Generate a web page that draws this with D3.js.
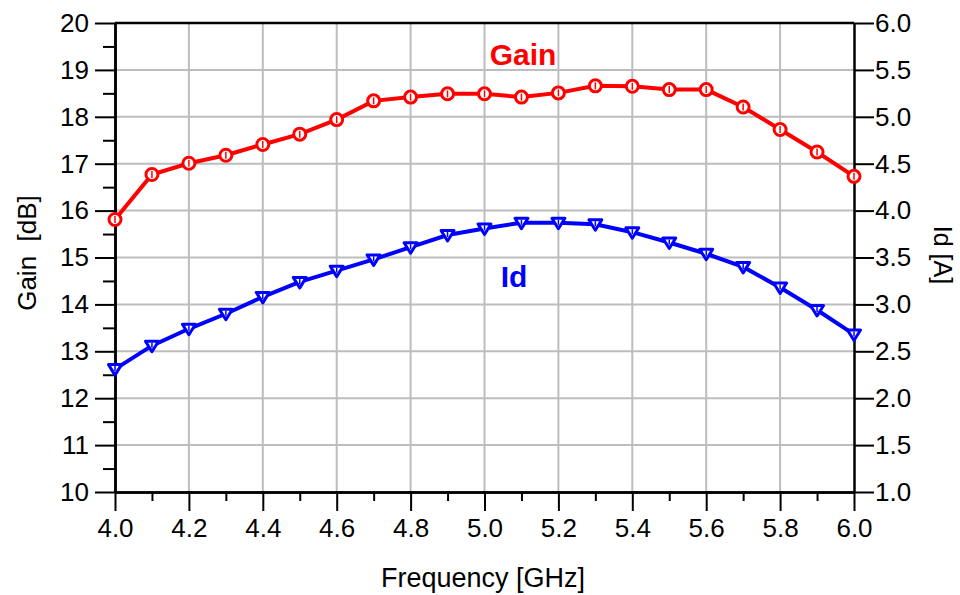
<!DOCTYPE html>
<html lang="en">
<head>
  <meta charset="UTF-8">
  <title>Gain and Id vs Frequency</title>
  <style>
    body { margin: 0; background: #fff; }
    text { font-family: "Liberation Sans", Arial, sans-serif; }
  </style>
</head>
<body>
  <svg id="chart" width="960" height="595"></svg>
  <script src="https://cdn.jsdelivr.net/npm/d3@7/dist/d3.min.js"></script>
  <script>
    // values
    var freq = [4.0, 4.1, 4.2, 4.3, 4.4, 4.5, 4.6, 4.7, 4.8, 4.9, 5.0,
                5.1, 5.2, 5.3, 5.4, 5.5, 5.6, 5.7, 5.8, 5.9, 6.0];
    var gain = [15.81, 16.77, 17.01, 17.18, 17.41, 17.63, 17.94, 18.34, 18.42, 18.49, 18.49,
                18.42, 18.51, 18.66, 18.65, 18.58, 18.58, 18.21, 17.73, 17.25, 16.73];
    var id = [2.31, 2.56, 2.74, 2.90, 3.08, 3.24, 3.36, 3.48, 3.61, 3.74, 3.81,
              3.87, 3.87, 3.855, 3.77, 3.66, 3.54, 3.40, 3.18, 2.94, 2.68];
    var xTicks = [4.0, 4.2, 4.4, 4.6, 4.8, 5.0, 5.2, 5.4, 5.6, 5.8, 6.0];
    var xMinor = [4.1, 4.3, 4.5, 4.7, 4.9, 5.1, 5.3, 5.5, 5.7, 5.9];
    var gainTicks = [10, 11, 12, 13, 14, 15, 16, 17, 18, 19, 20];
    var gainMinor = [10.5, 11.5, 12.5, 13.5, 14.5, 15.5, 16.5, 17.5, 18.5, 19.5];
    var idTicks = [1.0, 1.5, 2.0, 2.5, 3.0, 3.5, 4.0, 4.5, 5.0, 5.5, 6.0];

    var pl = 115, pr = 854, pt = 23, pb = 492;
    var svg = d3.select('#chart');

    var x = d3.scaleLinear().domain([4, 6]).range([pl, pr]);
    var yG = d3.scaleLinear().domain([10, 20]).range([pb, pt]);
    var yI = d3.scaleLinear().domain([1, 6]).range([pb, pt]);

    // grid
    var grid = svg.append('g').attr('stroke', '#bdbdbd').attr('stroke-width', 2);
    grid.selectAll('.gx').data(xTicks.slice(1, -1)).enter().append('line')
      .attr('x1', d => x(d)).attr('x2', d => x(d)).attr('y1', pt).attr('y2', pb);
    grid.selectAll('.gy').data(gainTicks.slice(1, -1)).enter().append('line')
      .attr('x1', pl).attr('x2', pr).attr('y1', d => yG(d)).attr('y2', d => yG(d));

    function styleAxis(g) {
      g.select('.domain').attr('stroke', '#000').attr('stroke-width', 2.5);
      g.selectAll('.tick line').attr('stroke', '#000').attr('stroke-width', 2);
      g.selectAll('text').attr('font-size', 26).attr('fill', '#000')
        .attr('font-family', '"Liberation Sans", Arial, sans-serif');
    }

    // bottom axis
    svg.append('g').attr('transform', 'translate(0,' + pb + ')')
      .call(d3.axisBottom(x).tickValues(xMinor).tickSize(9).tickFormat('').tickSizeOuter(0))
      .call(styleAxis);
    svg.append('g').attr('transform', 'translate(0,' + pb + ')')
      .call(d3.axisBottom(x).tickValues(xTicks).tickSize(19).tickPadding(8)
        .tickFormat(d3.format('.1f')).tickSizeOuter(0))
      .call(styleAxis);

    // left axis
    svg.append('g').attr('transform', 'translate(' + pl + ',0)')
      .call(d3.axisLeft(yG).tickValues(gainMinor).tickSize(12).tickFormat('').tickSizeOuter(0))
      .call(styleAxis);
    svg.append('g').attr('transform', 'translate(' + pl + ',0)')
      .call(d3.axisLeft(yG).tickValues(gainTicks).tickSize(20).tickPadding(6)
        .tickFormat(d3.format('d')).tickSizeOuter(0))
      .call(styleAxis);

    // right axis
    svg.append('g').attr('transform', 'translate(' + pr + ',0)')
      .call(d3.axisRight(yI).tickValues(idTicks).tickSize(20).tickPadding(1)
        .tickFormat(d3.format('.1f')).tickSizeOuter(0))
      .call(styleAxis);

    // top border
    svg.append('line').attr('x1', pl).attr('x2', pr).attr('y1', pt).attr('y2', pt)
      .attr('stroke', '#000').attr('stroke-width', 2.5);

    // gain series
    var gainLine = d3.line().x((d, i) => x(freq[i])).y(d => yG(d));
    svg.append('path').datum(gain).attr('d', gainLine)
      .attr('fill', 'none').attr('stroke', '#ff0000').attr('stroke-width', 4);
    var gm = svg.append('g').selectAll('g').data(gain).enter().append('g')
      .attr('transform', (d, i) => 'translate(' + x(freq[i]) + ',' + yG(d) + ')');
    gm.append('circle').attr('r', 6).attr('fill', '#fff')
      .attr('stroke', '#ff0000').attr('stroke-width', 3);
    gm.append('line').attr('y1', -3.5).attr('y2', 3.5)
      .attr('stroke', '#ff0000').attr('stroke-width', 1.5);

    // id series
    var idLine = d3.line().x((d, i) => x(freq[i])).y(d => yI(d));
    svg.append('path').datum(id).attr('d', idLine)
      .attr('fill', 'none').attr('stroke', '#0000ff').attr('stroke-width', 4);
    var im = svg.append('g').selectAll('g').data(id).enter().append('g')
      .attr('transform', (d, i) => 'translate(' + x(freq[i]) + ',' + yI(d) + ')');
    im.append('path').attr('d', 'M-6.5,-4.5L6.5,-4.5L0,6Z').attr('fill', '#fff')
      .attr('stroke', '#0000ff').attr('stroke-width', 3).attr('stroke-linejoin', 'round');
    im.append('line').attr('y1', -3).attr('y2', 2)
      .attr('stroke', '#0000ff').attr('stroke-width', 1.5);

    // titles
    svg.append('text').attr('x', 483).attr('y', 587)
      .attr('text-anchor', 'middle').attr('font-size', 27).text('Frequency [GHz]');
    svg.append('text').attr('transform', 'translate(36,253) rotate(-90)')
      .attr('text-anchor', 'middle').attr('font-size', 26)
      .style('white-space', 'pre').text('Gain  [dB]');
    svg.append('text').attr('transform', 'translate(934,255) rotate(90)')
      .attr('text-anchor', 'middle').attr('font-size', 25).text('Id [A]');

    // series labels
    svg.append('text').attr('x', 523).attr('y', 65).attr('text-anchor', 'middle')
      .attr('font-size', 30).attr('font-weight', 'bold').attr('fill', '#ff0000').text('Gain');
    svg.append('text').attr('x', 514).attr('y', 287).attr('text-anchor', 'middle')
      .attr('font-size', 30).attr('font-weight', 'bold').attr('fill', '#0000ff').text('Id');
  </script>
</body>
</html>
